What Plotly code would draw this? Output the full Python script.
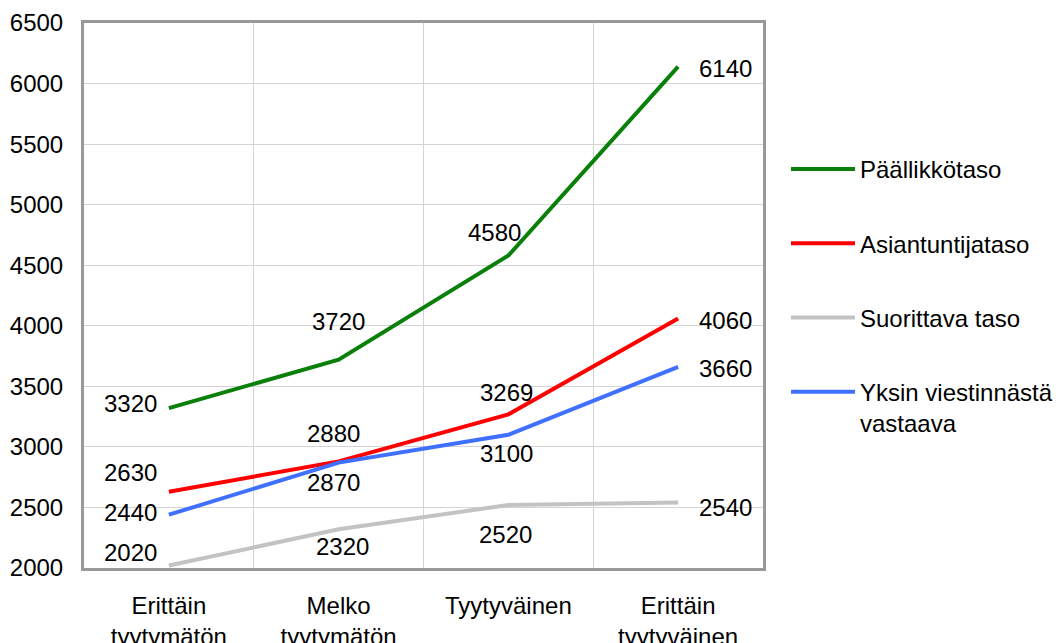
import plotly.graph_objects as go

# Satisfaction categories (x axis)
categories = ["Erittäin<br>tyytymätön", "Melko<br>tyytymätön", "Tyytyväinen", "Erittäin<br>tyytyväinen"]

# Series values
series_names = ["Päällikkötaso", "Asiantuntijataso", "Suorittava taso", "Yksin viestinnästä<br>vastaava"]
paallikko = [3320, 3720, 4580, 6140]
asiantuntija = [2630, 2880, 3269, 4060]
suorittava = [2020, 2320, 2520, 2540]
yksin = [2440, 2870, 3100, 3660]

series_values = [paallikko, asiantuntija, suorittava, yksin]
series_colors = ["#0a800a", "#ff0000", "#c3c3c3", "#4070ff"]

# Label placement per series and category: (xanchor, xshift, yshift)
label_style = [
    [("right", -10, 5), ("center", 0, 38), ("center", -14, 23), ("left", 19, -2)],
    [("right", -10, 19), ("center", -5, 28), ("center", -2, 22), ("left", 19, -2)],
    [("right", -10, 13), ("center", 4, -17), ("center", -3, -29), ("left", 19, -5)],
    [("right", -10, 2), ("center", -5, -20), ("center", -2, -19), ("left", 19, -2)],
]

FONT = "Liberation Sans, Arial, sans-serif"
SIZE = 24

fig = go.Figure()
for i, (name, vals, col) in enumerate(zip(series_names, series_values, series_colors)):
    fig.add_trace(go.Scatter(
        x=categories, y=vals, name=name, mode="lines",
        line=dict(color=col, width=4),
        legendgroup=f"g{i}",
    ))

annotations = []
for vals, styles in zip(series_values, label_style):
    for cat, v, (xa, xs, ys) in zip(categories, vals, styles):
        annotations.append(dict(
            x=cat, y=v, xref="x", yref="y", text=str(v), showarrow=False,
            xanchor=xa, yanchor="middle", xshift=xs, yshift=ys,
            font=dict(family=FONT, size=SIZE, color="#000000"),
        ))

fig.update_layout(
    width=1058, height=643,
    margin=dict(l=84, r=295, t=23, b=75),
    paper_bgcolor="white", plot_bgcolor="white",
    font=dict(family=FONT, size=SIZE, color="#000000"),
    showlegend=True,
    legend=dict(
        xref="container", yref="container",
        x=786 / 1058, y=1 - 147 / 643, xanchor="left", yanchor="top",
        font=dict(family=FONT, size=SIZE, color="#000000"),
        tracegroupgap=40, valign="top", itemwidth=64,
        bgcolor="rgba(0,0,0,0)",
    ),
    annotations=annotations,
)
fig.update_xaxes(
    type="category", range=[-0.5, 3.5], automargin=False,
    tickson="boundaries", showgrid=True, gridcolor="#d4d4d4", gridwidth=1,
    ticks="", showline=True, linecolor="#999999", linewidth=3, mirror=True,
    tickfont=dict(family=FONT, size=SIZE, color="#000000"),
    ticklabelstandoff=14,
)
fig.update_yaxes(
    range=[2000, 6500], dtick=500, showgrid=True, gridcolor="#d4d4d4", gridwidth=1,
    ticks="", showline=True, linecolor="#999999", linewidth=3, mirror=True,
    zeroline=False, automargin=False,
    tickfont=dict(family=FONT, size=SIZE, color="#000000"),
    ticklabelstandoff=13,
)

fig.write_html("out.html")
